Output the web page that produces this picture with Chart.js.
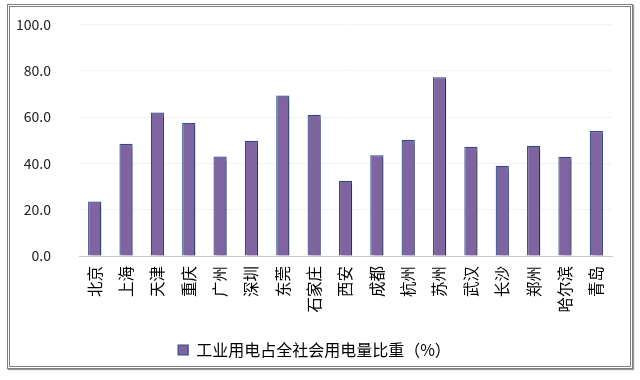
<!DOCTYPE html>
<html>
<head>
<meta charset="utf-8">
<script src="https://cdn.jsdelivr.net/npm/chart.js@4"></script>
<style>
  html, body { margin: 0; padding: 0; background: #fff; }
  #frame {
    position: absolute; left: 7px; top: 4px; width: 620px; height: 359px;
    border: 3px double #7f7f7f; box-shadow: 1px 1px 1px #999;
  }
  #wrap { position: absolute; left: 0; top: 0; width: 640px; height: 380px; }
</style>
</head>
<body>
<div id="frame"></div>
<div id="wrap"><canvas id="myChart" width="640" height="380"></canvas></div>
<script>
const cities = ["北京", "上海", "天津", "重庆", "广州", "深圳", "东莞", "石家庄", "西安",
  "成都", "杭州", "苏州", "武汉", "长沙", "郑州", "哈尔滨", "青岛"];
const industryShare = [23.5, 48.5, 62.0, 57.5, 43.0, 49.8, 69.3, 61.0, 32.5,
  43.5, 50.2, 77.2, 47.2, 39.0, 47.6, 42.9, 54.0];
const seriesName = "工业用电占全社会用电量比重（%）";
const yTicks = [0, 20, 40, 60, 80, 100];

// drop shadow behind the bars
const barShadow = {
  id: "barShadow",
  beforeDatasetsDraw(chart) {
    const ctx = chart.ctx;
    ctx.save();
    ctx.shadowColor = "rgba(0,0,0,0.35)";
    ctx.shadowOffsetX = 3;
    ctx.shadowOffsetY = 2;
    ctx.shadowBlur = 3;
  },
  afterDatasetsDraw(chart) {
    chart.ctx.restore();
  }
};

const font = "'Noto Sans CJK SC', 'Noto Sans', sans-serif";

document.addEventListener("DOMContentLoaded", function () {
  const ctx = document.getElementById("myChart").getContext("2d");
  new Chart(ctx, {
    type: "bar",
    data: {
      labels: cities,
      datasets: [{
        label: seriesName,
        data: industryShare,
        backgroundColor: "#8064A2",
        borderColor: "#2E4C86",
        borderWidth: 1.2,
        barPercentage: 0.42,
        categoryPercentage: 1
      }]
    },
    options: {
      responsive: false,
      animation: false,
      layout: { padding: { left: 17, right: 28, top: 0, bottom: 12 } },
      plugins: {
        tooltip: { enabled: false },
        legend: {
          position: "bottom",
          labels: {
            color: "#000",
            font: { family: font, size: 16 },
            boxWidth: 10,
            boxHeight: 10,
            padding: 10
          }
        }
      },
      scales: {
        x: {
          grid: { display: false },
          border: { color: "#c8c8c8", width: 1 },
          afterFit: (axis) => { axis.height = 76; },
          ticks: {
            color: "#000",
            font: { family: font, size: 15.5 },
            minRotation: 90,
            maxRotation: 90,
            autoSkip: false,
            padding: 2
          }
        },
        y: {
          min: 0,
          max: 100,
          afterBuildTicks: (axis) => { axis.ticks = yTicks.map((v) => ({ value: v })); },
          afterFit: (axis) => {
            axis.width = 62;
            axis.paddingTop = 24.5;
            axis.paddingBottom = 8;
          },
          grid: { color: "#f3f3f3", drawTicks: false },
          border: { display: false },
          ticks: {
            color: "#222",
            font: { family: font, size: 14 },
            padding: 28,
            callback: (v) => Number(v).toFixed(1)
          }
        }
      }
    },
    plugins: [barShadow]
  });
});
</script>
</body>
</html>
